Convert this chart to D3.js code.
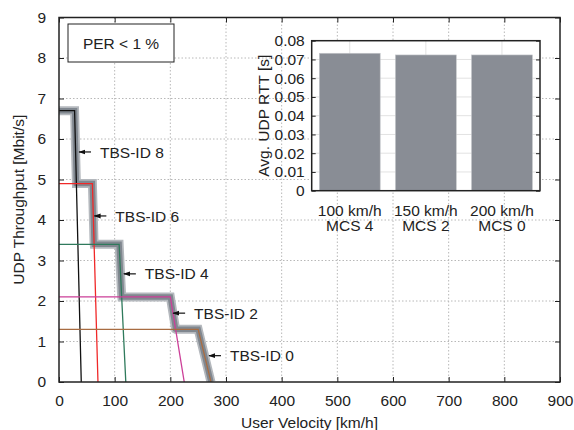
<!DOCTYPE html>
<head>
  <meta charset="utf-8">
  <script src="https://d3js.org/d3.v7.min.js"></script>
  <style>
    body { margin: 0; background: #fff; }
    text { font-family: "Liberation Sans", Arial, sans-serif; font-size: 15.5px; fill: #222; }
    .grid line { stroke: #b8b8b8; stroke-dasharray: 1.5,2; stroke-width: 1; }
    .axis path { display: none; }
    .axis line { stroke: #222; }
    .igrid line { stroke: #e2e2e2; stroke-width: 1; }
  </style>
</head>
<body>
<script>
// throughput curves per TBS-ID: [velocity km/h, throughput Mbit/s]
var tbsNames = ["TBS-ID 8", "TBS-ID 6", "TBS-ID 4", "TBS-ID 2", "TBS-ID 0"];
var tbsColors = ["#111111", "#f02828", "#2f7a5c", "#cc3f98", "#a86c42"];
var tbsCurves = [
  [[0, 6.7], [28, 6.7], [40, 0]],
  [[0, 4.9], [60, 4.9], [70, 0]],
  [[0, 3.4], [108, 3.4], [120, 0]],
  [[0, 2.1], [200, 2.1], [225, 0]],
  [[0, 1.3], [250, 1.3], [273, 0]]
];
// arrow tip of each label, in data units
var labelTips = [[36, 5.68], [63.5, 4.1], [116.5, 2.67], [205, 1.7], [269.5, 0.65]];

var xTicks = [0, 100, 200, 300, 400, 500, 600, 700, 800, 900];
var yTicks = [0, 1, 2, 3, 4, 5, 6, 7, 8, 9];

// inset bars
var rttCats = ["100 km/h", "150 km/h", "200 km/h"];
var rttMcs = ["MCS 4", "MCS 2", "MCS 0"];
var rttVals = [0.0733, 0.0724, 0.0724];
var rttTicks = [0, 0.01, 0.02, 0.03, 0.04, 0.05, 0.06, 0.07, 0.08];

var W = 574, H = 430;
var m = { left: 59, right: 560, top: 17.5, bottom: 382 };

var svg = d3.select("body").append("svg")
    .attr("width", W)
    .attr("height", H);

var x = d3.scaleLinear().domain([0, 900]).range([m.left, m.right]);
var y = d3.scaleLinear().domain([0, 9]).range([m.bottom, m.top]);

// grid
svg.append("g").attr("class", "grid")
  .selectAll("line").data(xTicks.slice(1, -1)).enter().append("line")
    .attr("x1", d => x(d)).attr("x2", d => x(d))
    .attr("y1", m.top).attr("y2", m.bottom);
svg.append("g").attr("class", "grid")
  .selectAll("line").data(yTicks.slice(1, -1)).enter().append("line")
    .attr("y1", d => y(d)).attr("y2", d => y(d))
    .attr("x1", m.left).attr("x2", m.right);

// axes, ticks pointing inward
svg.append("g").attr("class", "axis")
    .attr("transform", "translate(0," + m.bottom + ")")
    .call(d3.axisBottom(x).tickValues(xTicks).tickSizeInner(-5).tickPadding(13))
    .selectAll("text").attr("dy", "0.71em");
svg.append("g").attr("class", "axis")
    .attr("transform", "translate(0," + m.top + ")")
    .call(d3.axisTop(x).tickValues(xTicks).tickSizeInner(-5).tickFormat(""));
svg.append("g").attr("class", "axis")
    .attr("transform", "translate(" + m.left + ",0)")
    .call(d3.axisLeft(y).tickValues(yTicks).tickSizeInner(-5).tickPadding(13));
svg.append("g").attr("class", "axis")
    .attr("transform", "translate(" + m.right + ",0)")
    .call(d3.axisRight(y).tickValues(yTicks).tickSizeInner(-5).tickFormat(""));

var line = d3.line().x(d => x(d[0])).y(d => y(d[1]));

// envelope = max over all curves
function interp(c, v) {
  for (var i = 1; i < c.length; i++) {
    if (v <= c[i][0]) {
      var a = c[i - 1], b = c[i];
      return a[1] + (b[1] - a[1]) * (v - a[0]) / (b[0] - a[0]);
    }
  }
  return 0;
}
var vmax = d3.max(tbsCurves, c => c[c.length - 1][0]);
var env = d3.range(0, vmax + 0.001, 0.25).map(v => [v, d3.max(tbsCurves, c => interp(c, v))]);

svg.append("clipPath").attr("id", "plotclip").append("rect")
    .attr("x", m.left).attr("y", m.top)
    .attr("width", m.right - m.left).attr("height", m.bottom - m.top);
var plot = svg.append("g").attr("clip-path", "url(#plotclip)");

plot.append("path").datum(env).attr("d", line)
    .attr("fill", "none").attr("stroke", "#b4b8bd").attr("stroke-width", 9);
plot.append("path").datum(env).attr("d", line)
    .attr("fill", "none").attr("stroke", "#80878f").attr("stroke-width", 5.5);

plot.selectAll(".tbs").data(tbsCurves).enter().append("path")
    .attr("class", "tbs")
    .attr("d", line)
    .attr("fill", "none")
    .attr("stroke", (d, i) => tbsColors[i])
    .attr("stroke-width", 1.3);

// frame
svg.append("rect")
    .attr("x", m.left).attr("y", m.top)
    .attr("width", m.right - m.left).attr("height", m.bottom - m.top)
    .attr("fill", "none").attr("stroke", "#222").attr("stroke-width", 1.5);

// labels with arrows
var defs = svg.append("defs");
defs.append("marker").attr("id", "arr")
    .attr("viewBox", "0 0 10 10").attr("refX", 9).attr("refY", 5)
    .attr("markerWidth", 7).attr("markerHeight", 7).attr("markerUnits", "userSpaceOnUse")
    .attr("orient", "auto")
  .append("path").attr("d", "M0,1.5L10,5L0,8.5Z").attr("fill", "#111");

var lab = svg.selectAll(".lab").data(labelTips).enter().append("g").attr("class", "lab");
lab.append("line")
    .attr("x1", d => x(d[0]) + 12).attr("x2", d => x(d[0]))
    .attr("y1", d => y(d[1])).attr("y2", d => y(d[1]))
    .attr("stroke", "#111").attr("stroke-width", 1.2)
    .attr("marker-end", "url(#arr)");
lab.append("text")
    .attr("x", d => x(d[0]) + 21).attr("y", d => y(d[1]))
    .attr("dy", "0.36em")
    .text((d, i) => tbsNames[i]);

// PER box
svg.append("rect").attr("x", 68).attr("y", 24).attr("width", 106).attr("height", 38)
    .attr("fill", "#fff").attr("stroke", "#222").attr("stroke-width", 1);
svg.append("text").attr("x", 121).attr("y", 43).attr("dy", "0.36em")
    .attr("text-anchor", "middle").text("PER < 1 %");

// axis titles
svg.append("text").attr("x", (m.left + m.right) / 2).attr("y", 422).attr("dy", "0.36em")
    .attr("text-anchor", "middle").text("User Velocity [km/h]");
svg.append("text")
    .attr("transform", "translate(18," + ((m.top + m.bottom) / 2) + ") rotate(-90)")
    .attr("dy", "0.36em").attr("text-anchor", "middle").text("UDP Throughput [Mbit/s]");

// inset
var im = { left: 311.7, right: 540, top: 40.7, bottom: 190.7 };
var ix = d3.scaleBand().domain(rttCats).range([im.left, im.right])
    .paddingInner(0.2).paddingOuter(0.1);
var iy = d3.scaleLinear().domain([0, 0.08]).range([im.bottom, im.top]);

svg.append("rect").attr("x", im.left).attr("y", im.top)
    .attr("width", im.right - im.left).attr("height", im.bottom - im.top)
    .attr("fill", "#fff");

var ig = svg.append("g").attr("class", "igrid");
ig.selectAll(".gy").data(rttTicks.slice(1, -1)).enter().append("line")
    .attr("x1", im.left).attr("x2", im.right)
    .attr("y1", d => iy(d)).attr("y2", d => iy(d));
ig.selectAll(".gx").data(rttCats).enter().append("line")
    .attr("x1", d => ix(d) + ix.bandwidth() / 2).attr("x2", d => ix(d) + ix.bandwidth() / 2)
    .attr("y1", im.top).attr("y2", im.bottom);

svg.selectAll(".bar").data(rttVals).enter().append("rect")
    .attr("class", "bar")
    .attr("x", (d, i) => ix(rttCats[i]))
    .attr("width", ix.bandwidth())
    .attr("y", d => iy(d))
    .attr("height", d => im.bottom - iy(d))
    .attr("fill", "#898d95")
    .attr("stroke", "#c4c6ca").attr("stroke-width", 0.6);

svg.append("g").attr("class", "axis")
    .attr("transform", "translate(" + im.left + ",0)")
    .call(d3.axisLeft(iy).tickValues(rttTicks).tickSizeInner(-4).tickPadding(7)
      .tickFormat(d => d === 0 ? "0" : d3.format(".2f")(d)));
svg.append("g").attr("class", "axis")
    .attr("transform", "translate(" + im.right + ",0)")
    .call(d3.axisRight(iy).tickValues(rttTicks).tickSizeInner(-4).tickFormat(""));

var xl = svg.selectAll(".ixl").data(rttCats).enter().append("text")
    .attr("text-anchor", "middle")
    .attr("x", d => ix(d) + ix.bandwidth() / 2)
    .attr("y", 210).attr("dy", "0.36em");
xl.append("tspan").text(d => d);
xl.append("tspan").attr("x", d => ix(d) + ix.bandwidth() / 2).attr("dy", "1.0em")
    .text((d, i) => rttMcs[i]);

svg.append("rect").attr("x", im.left).attr("y", im.top)
    .attr("width", im.right - im.left).attr("height", im.bottom - im.top)
    .attr("fill", "none").attr("stroke", "#222").attr("stroke-width", 1.5);

svg.append("text")
    .attr("transform", "translate(263," + ((im.top + im.bottom) / 2) + ") rotate(-90)")
    .attr("dy", "0.36em").attr("text-anchor", "middle").text("Avg. UDP RTT [s]");
</script>
</body>
